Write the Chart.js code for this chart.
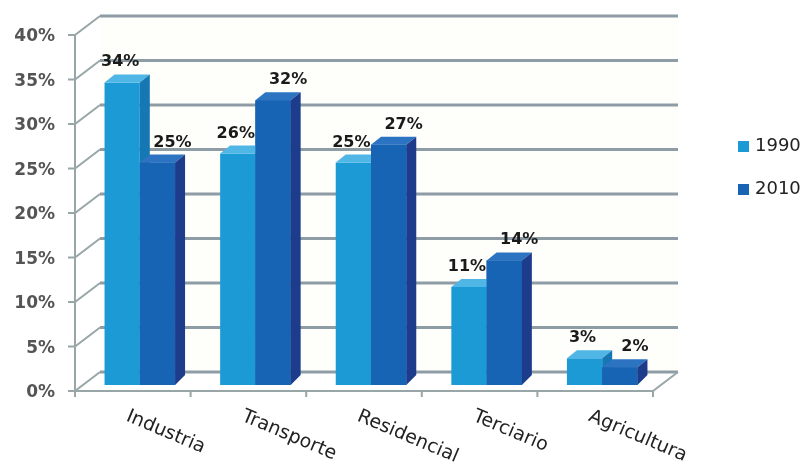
<!DOCTYPE html>
<html>
<head>
<meta charset="utf-8">
<script src="https://cdn.jsdelivr.net/npm/chart.js@4.4.0/dist/chart.umd.min.js"></script>
<style>
  html, body { margin: 0; padding: 0; background: #fff; }
</style>
</head>
<body>
<canvas id="chart" width="808" height="471"></canvas>
<script>
let categories = ['Industria', 'Transporte', 'Residencial', 'Terciario', 'Agricultura'];
let years = ['1990', '2010'];
let values1990 = [34, 26, 25, 11, 3];
let values2010 = [25, 32, 27, 14, 2];
let yTicks = [0, 5, 10, 15, 20, 25, 30, 35, 40];

// front / top / side colour of each series
let frontColors = ['#1c9ad6', '#1763b4'];
let topColors = ['#50b6e6', '#2c74c2'];
let sideColors = ['#1577b3', '#1e3c8c'];

// fake 3d: shift of the front axis plane, the back wall and the bar depth
let frontOff = { x: -7, y: 6 };
let backOff = { x: 18, y: -13 };
let depth = { x: 10, y: -8 };
let labelShift = [-2, 15];

let gridColor = '#8e9ca5';
let axisColor = '#98a6a8';

let fake3d = {
  id: 'fake3d',
  beforeDatasetsDraw(chart) {
    let ctx = chart.ctx;
    let xs = chart.scales.x, ys = chart.scales.y, a = chart.chartArea;
    let fx = a.left + frontOff.x, bx = a.left + backOff.x;
    let top = ys.getPixelForValue(40), zero = ys.getPixelForValue(0);
    ctx.save();
    // back wall
    ctx.fillStyle = '#fefefa';
    ctx.fillRect(bx, top + backOff.y, a.right - a.left, zero - top);

    ctx.lineCap = 'butt';
    yTicks.forEach(t => {
      let yb = ys.getPixelForValue(t) + backOff.y;
      let yf = ys.getPixelForValue(t) + frontOff.y;
      ctx.strokeStyle = gridColor;
      ctx.lineWidth = 3;
      ctx.beginPath();
      ctx.moveTo(bx, yb);
      ctx.lineTo(a.right + backOff.x, yb);
      ctx.stroke();
      ctx.strokeStyle = axisColor;
      ctx.lineWidth = 2;
      ctx.beginPath();
      ctx.moveTo(fx - 7, yf);
      ctx.lineTo(fx, yf);
      ctx.lineTo(bx, yb);
      ctx.stroke();
      ctx.fillStyle = '#555';
      ctx.font = 'bold 17px "DejaVu Sans"';
      ctx.textAlign = 'right';
      ctx.textBaseline = 'middle';
      ctx.fillText(t + '%', 55, yf + 2);
    });

    // front axis and floor
    ctx.strokeStyle = axisColor;
    ctx.lineWidth = 2;
    ctx.beginPath();
    ctx.moveTo(fx, top + frontOff.y);
    ctx.lineTo(fx, zero + frontOff.y);
    ctx.lineTo(a.right + frontOff.x, zero + frontOff.y);
    ctx.lineTo(a.right + backOff.x, zero + backOff.y);
    ctx.stroke();
    for (let i = 0; i <= categories.length; i++) {
      let px = xs.getPixelForValue(i - 0.5) + frontOff.x;
      ctx.beginPath();
      ctx.moveTo(px, zero + frontOff.y);
      ctx.lineTo(px, zero + frontOff.y + 6);
      ctx.stroke();
    }
    ctx.restore();
  },
  afterDatasetsDraw(chart) {
    let ctx = chart.ctx;
    let xs = chart.scales.x;
    ctx.save();
    let face = (pts, color) => {
      ctx.fillStyle = color;
      ctx.beginPath();
      ctx.moveTo(pts[0][0], pts[0][1]);
      for (let k = 1; k < pts.length; k++) ctx.lineTo(pts[k][0], pts[k][1]);
      ctx.closePath();
      ctx.fill();
    };
    categories.forEach((c, i) => {
      chart.data.datasets.forEach((ds, d) => {
        let el = chart.getDatasetMeta(d).data[i];
        let p = el.getProps(['x', 'y', 'base', 'width'], true);
        let l = p.x - p.width / 2, r = p.x + p.width / 2;
        if (d > 0) {
          ctx.fillStyle = frontColors[d];
          ctx.fillRect(l, p.y, p.width, p.base - p.y);
        }
        face([[l, p.y], [l + depth.x, p.y + depth.y], [r + depth.x, p.y + depth.y], [r, p.y]], topColors[d]);
        face([[r, p.y], [r + depth.x, p.y + depth.y], [r + depth.x, p.base + depth.y - 2], [r, p.base]], sideColors[d]);
      });
    });

    // value labels
    ctx.fillStyle = '#1a1a1a';
    ctx.font = 'bold 16px "DejaVu Sans"';
    ctx.textAlign = 'center';
    ctx.textBaseline = 'alphabetic';
    chart.data.datasets.forEach((ds, d) => {
      chart.getDatasetMeta(d).data.forEach((el, i) => {
        ctx.fillText(ds.data[i] + '%', el.x + labelShift[d], el.y - 16);
      });
    });

    // category labels, slanted downwards
    ctx.fillStyle = '#222';
    ctx.font = '19px "DejaVu Sans"';
    ctx.textAlign = 'left';
    ctx.textBaseline = 'top';
    categories.forEach((c, i) => {
      ctx.save();
      ctx.translate(xs.getPixelForValue(i) + frontOff.x - 2, 407);
      ctx.rotate(23 * Math.PI / 180);
      ctx.fillText(c, 0, 0);
      ctx.restore();
    });

    // legend
    ctx.font = '18px "DejaVu Sans"';
    ctx.textBaseline = 'middle';
    years.forEach((yr, d) => {
      let ly = 146 + d * 43;
      ctx.fillStyle = frontColors[d];
      ctx.fillRect(738, ly - 5, 11, 11);
      ctx.fillStyle = '#222';
      ctx.fillText(yr, 755, ly);
    });
    ctx.restore();
  }
};

new Chart(document.getElementById('chart'), {
  type: 'bar',
  data: {
    labels: categories,
    datasets: [
      { label: years[0], data: values1990, backgroundColor: frontColors[0], borderWidth: 0, categoryPercentage: 0.61, barPercentage: 1 },
      { label: years[1], data: values2010, backgroundColor: frontColors[1], borderWidth: 0, categoryPercentage: 0.61, barPercentage: 1 }
    ]
  },
  options: {
    responsive: false,
    animation: false,
    layout: { padding: { left: 82, right: 148, top: 29, bottom: 86 } },
    plugins: { legend: { display: false }, tooltip: { enabled: false } },
    scales: {
      x: { display: false },
      y: { display: false, min: 0, max: 40 }
    }
  },
  plugins: [fake3d]
});
</script>
</body>
</html>
